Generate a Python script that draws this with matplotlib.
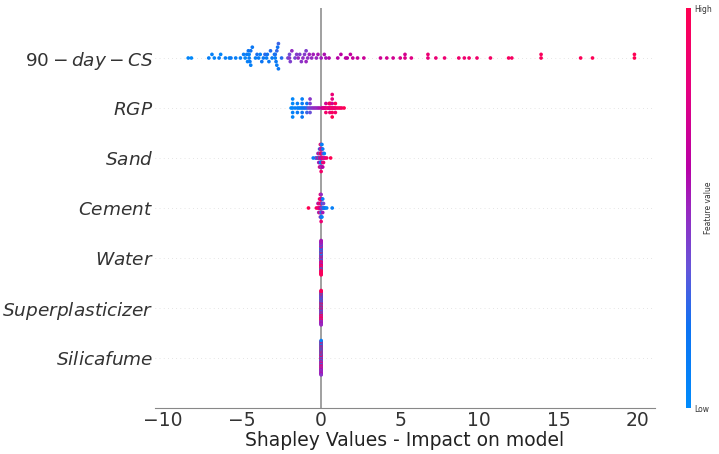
import numpy as np
import matplotlib
matplotlib.use("Agg")
import matplotlib.pyplot as plt
from matplotlib.colors import LinearSegmentedColormap

# feature names, bottom row first (as they are stacked on the y axis)
features = ["Silicafume", "Superplasticizer", "Water", "Cement", "Sand", "RGP", "90-day-CS"]
labels = ["$Silicafume$", "$Superplasticizer$", "$Water$", "$Cement$", "$Sand$", "$RGP$", "$90-day-CS$"]

# shap values and normalised feature values (0 = low, 1 = high) per feature
cs90_shap = [-8.4, -8.2, -7.1, -6.9, -6.75, -6.45, -6.35, -6.05, -5.8, -5.7,
             -5.4, -5.1, -4.9, -4.8, -4.7, -4.65, -4.6, -4.55, -4.55, -4.5,
             -4.45, -4.45, -4.35, -4.15, -4.05, -3.95, -3.85, -3.75, -3.65, -3.55,
             -3.45, -3.4, -3.3, -3.2, -3.1, -2.95, -2.9, -2.9, -2.85, -2.8,
             -2.8, -2.75, -2.7, -2.7, -2.5,
             -2.1, -2.0, -2.0, -1.95, -1.85, -1.65, -1.55, -1.45, -1.35, -1.25,
             -1.15, -1.05, -0.95, -0.95, -0.85, -0.75, -0.6, -0.5, -0.3, -0.2,
             0.0, 0.2, 0.3, 0.5,
             1.05, 1.25, 1.55, 1.65, 1.85, 2.0, 2.3, 2.7, 3.75, 4.15,
             4.55, 5.0, 5.3, 5.3, 5.7,
             6.75, 6.75, 7.25, 7.8, 8.7, 9.05, 9.35, 9.85, 10.7, 11.85,
             12.05, 13.9, 13.9, 16.4, 17.15, 19.8, 19.8]
cs90_feat = [0.05, 0.02, 0.10, 0.08, 0.06, 0.12, 0.04, 0.10, 0.07, 0.15,
             0.09, 0.10, 0.12, 0.05, 0.14, 0.08, 0.18, 0.11, 0.06, 0.13,
             0.20, 0.09, 0.16, 0.10, 0.22, 0.12, 0.08, 0.18, 0.14, 0.25,
             0.11, 0.20, 0.16, 0.24, 0.13, 0.19, 0.10, 0.22, 0.15, 0.26,
             0.12, 0.20, 0.17, 0.28, 0.24,
             0.40, 0.45, 0.38, 0.42, 0.48, 0.40, 0.44, 0.50, 0.42, 0.46,
             0.48, 0.44, 0.50, 0.42, 0.47, 0.52, 0.49, 0.53, 0.50, 0.55,
             0.52, 0.56, 0.54, 0.58,
             0.60, 0.62, 0.63, 0.61, 0.64, 0.66, 0.65, 0.68, 0.70, 0.72,
             0.71, 0.74, 0.76, 0.73, 0.78,
             0.82, 0.85, 0.84, 0.86, 0.88, 0.87, 0.90, 0.89, 0.92, 0.94,
             0.93, 0.96, 0.95, 0.97, 0.98, 1.00, 0.99]

rgp_shap = [-1.9, -1.8, -1.8, -1.8, -1.8, -1.8, -1.65, -1.5, -1.5, -1.5, -1.4, -1.3,
            -1.2, -1.2, -1.2, -1.2, -1.2, -1.1, -1.0, -0.9, -0.9, -0.9,
            -0.8, -0.7, -0.7, -0.7, -0.7, -0.6, -0.5, -0.4, -0.3, -0.2, -0.1,
            0.05, 0.1, 0.15, 0.2, 0.25, 0.3, 0.3, 0.3, 0.4, 0.45,
            0.5, 0.5, 0.55, 0.55, 0.55, 0.6, 0.6, 0.65, 0.7, 0.7,
            0.7, 0.7, 0.7, 0.7, 0.75, 0.8, 0.85, 0.9, 0.9, 0.9,
            1.0, 1.1, 1.2, 1.3, 1.45]
rgp_feat = [0.02, 0.05, 0.03, 0.08, 0.04, 0.06, 0.10, 0.12, 0.09, 0.14, 0.08, 0.11,
            0.15, 0.12, 0.18, 0.10, 0.16, 0.20, 0.22, 0.25, 0.18, 0.28,
            0.38, 0.40, 0.42, 0.36, 0.45, 0.44, 0.47, 0.50, 0.48, 0.52, 0.55,
            0.70, 0.65, 0.75, 0.80, 0.68, 0.85, 0.72, 0.90, 0.78, 0.88,
            0.82, 0.95, 0.70, 0.92, 0.85, 0.76, 0.98, 0.88, 0.90, 0.72,
            0.95, 0.80, 1.00, 0.85, 0.93, 0.78, 0.96, 0.82, 0.99, 0.90,
            0.94, 0.86, 0.97, 0.92, 1.00]

sand_shap = [-0.5, -0.35, -0.3, -0.22, -0.2, -0.2, -0.15, -0.15, -0.15,
             -0.1, -0.1, -0.1, -0.1, -0.1, -0.05, -0.05, -0.05, -0.05, -0.05, -0.05,
             0.0, 0.0, 0.0, 0.0, 0.0, 0.0, 0.0,
             0.05, 0.05, 0.05, 0.05, 0.05, 0.05, 0.1, 0.1, 0.1, 0.1, 0.1,
             0.15, 0.15, 0.15, 0.2, 0.2, 0.25, 0.35, 0.6]
sand_feat = [0.10, 0.15, 0.40, 0.20, 0.85, 0.45, 0.10, 0.90, 0.50,
             0.95, 0.30, 0.60, 0.15, 0.85, 0.50, 0.90, 0.20, 0.70, 0.45, 1.00,
             0.60, 0.95, 0.15, 0.50, 0.85, 0.40, 0.90,
             0.55, 0.95, 0.20, 0.80, 0.45, 0.10, 0.90, 0.50, 0.85, 0.15, 0.60,
             0.95, 0.40, 0.85, 0.50, 0.10, 0.80, 0.90, 1.00]

cement_shap = [-0.8, -0.3, -0.2, -0.2, -0.15, -0.15, -0.15,
               -0.1, -0.1, -0.1, -0.1, -0.05, -0.05, -0.05, -0.05, -0.05, -0.05,
               0.0, 0.0, 0.0, 0.0, 0.0, 0.0, 0.0,
               0.05, 0.05, 0.05, 0.05, 0.05, 0.1, 0.1, 0.1, 0.1,
               0.15, 0.15, 0.2, 0.25, 0.35, 0.7]
cement_feat = [1.00, 0.95, 0.90, 0.50, 0.85, 0.95, 0.45,
               0.90, 0.55, 0.95, 0.80, 0.60, 0.90, 0.45, 1.00, 0.50, 0.85,
               0.55, 0.95, 0.40, 0.90, 0.20, 0.50, 0.85,
               0.30, 0.50, 0.15, 0.60, 0.10, 0.45, 0.20, 0.55, 0.10,
               0.15, 0.40, 0.10, 0.20, 0.05, 0.10]

water_feat = [0.90, 0.10, 0.95, 0.50, 0.05, 0.95, 0.40, 0.10, 0.90, 0.50,
              0.05, 1.00, 0.45, 0.10, 0.95, 0.30, 0.90, 0.05, 0.55, 1.00,
              0.90, 0.10, 0.45, 0.95, 0.60, 0.05, 0.90, 0.40, 1.00, 0.10,
              0.95, 0.85, 0.50, 0.10, 0.95, 0.05, 0.90, 0.55, 0.10, 0.40,
              1.00, 0.95, 0.10, 0.50, 1.00, 0.05, 0.95, 0.55, 0.90, 0.45,
              1.00, 0.50, 0.95, 0.45, 0.90, 0.60, 1.00, 0.50, 0.95, 0.55]
superp_feat = [0.50, 0.95, 0.10, 1.00, 0.90, 0.05, 0.95, 1.00, 0.15, 0.90,
               0.85, 0.05, 0.20, 0.95, 0.40, 0.10, 0.90, 1.00, 0.05, 0.95,
               0.50, 0.15, 1.00, 0.90, 0.05, 0.10, 1.00, 0.50, 0.85, 0.05,
               0.95, 0.95, 0.40, 0.10, 0.90, 0.50, 0.95, 0.15, 1.00, 0.90,
               0.45, 0.05, 1.00, 0.55, 0.90, 0.10, 0.50, 0.95, 0.45, 0.10,
               0.55, 0.95, 0.50, 0.05, 0.60, 1.00, 0.45, 0.90, 0.50, 0.95]
silica_feat = [0.45, 0.10, 0.95, 0.90, 0.50, 0.05, 0.95, 0.45, 0.10, 1.00,
               0.50, 0.90, 0.05, 0.10, 0.95, 0.95, 0.50, 0.05, 0.45, 0.90,
               0.95, 0.10, 0.50, 1.00, 0.05, 0.10, 0.95, 0.90, 0.50, 0.05,
               1.00, 0.95, 0.45, 0.10, 0.50, 0.90, 0.95, 0.10, 0.45, 1.00,
               0.50, 0.05, 0.60, 0.90, 0.40, 0.10, 0.55, 0.95, 0.50, 0.15,
               0.45, 0.05, 0.55, 0.90, 0.50, 0.10, 0.60, 0.95, 0.45, 0.05]

rows = [
    (np.zeros(len(silica_feat)), silica_feat),
    (np.zeros(len(superp_feat)), superp_feat),
    (np.zeros(len(water_feat)), water_feat),
    (cement_shap, cement_feat),
    (sand_shap, sand_feat),
    (rgp_shap, rgp_feat),
    (cs90_shap, cs90_feat),
]

red_blue = LinearSegmentedColormap.from_list("red_blue", [
    (0.00, (0.00, 0.545, 0.984)),
    (0.20, (0.05, 0.45, 0.95)),
    (0.35, (0.40, 0.33, 0.85)),
    (0.50, (0.60, 0.15, 0.75)),
    (0.60, (0.72, 0.00, 0.65)),
    (0.80, (0.90, 0.00, 0.50)),
    (1.00, (1.00, 0.00, 0.318)),
])


def swarm(shaps, nbins=100, row_height=0.4):
    # same binning/stacking idea as the shap beeswarm
    shaps = np.asarray(shaps, dtype=float)
    span = shaps.max() - shaps.min()
    quant = np.round(nbins * (shaps - shaps.min()) / (span + 1e-8))
    inds = np.argsort(quant, kind="stable")
    ys = np.zeros(len(shaps))
    layer, last_bin = 0, -1
    for ind in inds:
        if quant[ind] != last_bin:
            layer = 0
        ys[ind] = np.ceil(layer / 2) * ((layer % 2) * 2 - 1)
        layer += 1
        last_bin = quant[ind]
    ys *= 0.9 * (row_height / np.max(ys + 1))
    return ys


axis_color = "#333333"
fig = plt.figure(figsize=(7.19, 4.54), dpi=100)
ax = fig.add_axes([155 / 719, 46 / 454, 500 / 719, 400 / 454])

ax.axvline(0, color="#999999", lw=1.3, zorder=-1)
for pos, (shaps, feat) in enumerate(rows):
    ax.axhline(pos, color="#cccccc", lw=0.5, dashes=(1, 5), zorder=-1)
    ys = swarm(shaps)
    ax.scatter(shaps, pos + ys, c=feat, cmap=red_blue, vmin=0, vmax=1,
               s=7, linewidth=0, alpha=1, zorder=3, rasterized=True)

ax.set_xlim(-10.5, 21.1)
ax.set_ylim(-1, len(features))
ax.set_yticks(range(len(features)))
ax.set_yticklabels(labels, fontsize=13.3)
ax.tick_params("y", length=0, pad=1, labelcolor=axis_color)
ax.set_xticks([-10, -5, 0, 5, 10, 15, 20])
ax.tick_params("x", labelsize=13.5, labelcolor=axis_color, length=0, pad=2)
ax.set_xlabel("Shapley Values - Impact on model", fontsize=13.5, color="#222222", labelpad=1)
for side in ["top", "right", "left"]:
    ax.spines[side].set_visible(False)
ax.spines["bottom"].set_color("#888888")

cax = fig.add_axes([686 / 719, 46 / 454, 5 / 719, 400 / 454])
sm = plt.cm.ScalarMappable(cmap=red_blue, norm=plt.Normalize(0, 1))
cb = fig.colorbar(sm, cax=cax, ticks=[0, 1])
cb.set_ticklabels(["Low", "High"])
cb.ax.tick_params(labelsize=5.5, length=0, pad=2, labelcolor=axis_color)
cb.outline.set_visible(False)
cax.text(4.6, 0.5, "Feature value", rotation=90, ha="center", va="center",
         fontsize=5.5, color=axis_color, transform=cax.transAxes)

fig.savefig("out.png", dpi=100)
